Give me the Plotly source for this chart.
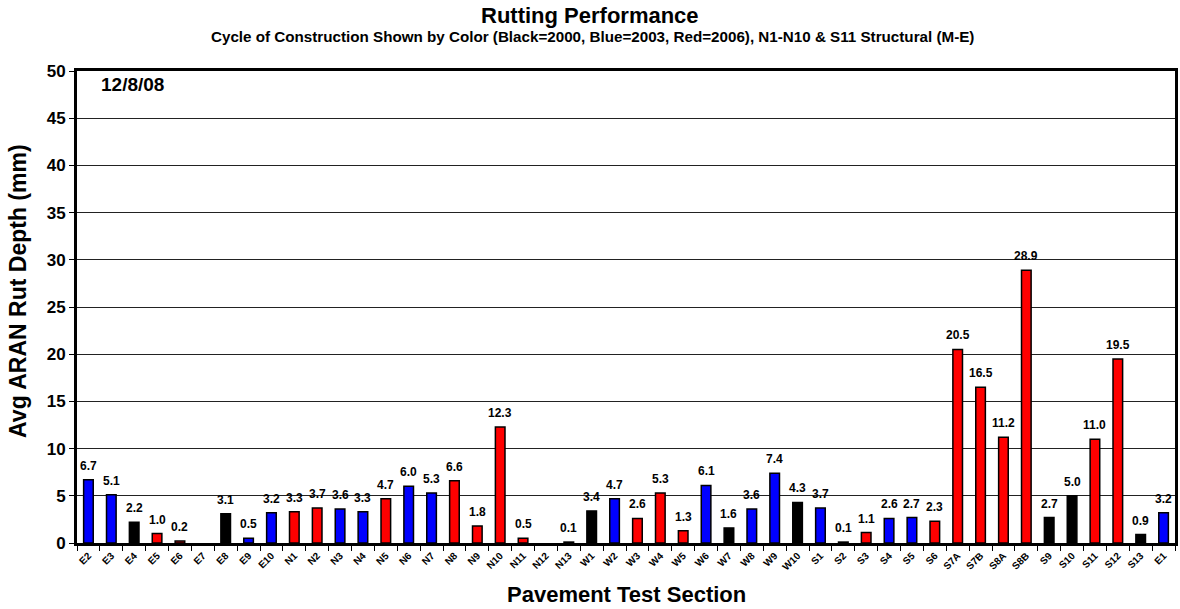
import plotly.graph_objects as go

sections = ["E2", "E3", "E4", "E5", "E6", "E7", "E8", "E9", "E10", "N1", "N2", "N3", "N4", "N5",
            "N6", "N7", "N8", "N9", "N10", "N11", "N12", "N13", "W1", "W2", "W3", "W4", "W5", "W6",
            "W7", "W8", "W9", "W10", "S1", "S2", "S3", "S4", "S5", "S6", "S7A", "S7B", "S8A", "S8B",
            "S9", "S10", "S11", "S12", "S13", "E1"]
rut_mm = [6.7, 5.1, 2.2, 1.0, 0.2, None, 3.1, 0.5, 3.2, 3.3, 3.7, 3.6, 3.3, 4.7,
          6.0, 5.3, 6.6, 1.8, 12.3, 0.5, None, 0.1, 3.4, 4.7, 2.6, 5.3, 1.3, 6.1,
          1.6, 3.6, 7.4, 4.3, 3.7, 0.1, 1.1, 2.6, 2.7, 2.3, 20.5, 16.5, 11.2, 28.9,
          2.7, 5.0, 11.0, 19.5, 0.9, 3.2]
cycle = [2003, 2003, 2000, 2006, 2006, 2006, 2000, 2003, 2003, 2006, 2006, 2003, 2003, 2006,
         2003, 2003, 2006, 2006, 2006, 2006, 2006, 2006, 2000, 2003, 2006, 2006, 2006, 2003,
         2000, 2003, 2003, 2000, 2003, 2006, 2006, 2003, 2003, 2006, 2006, 2006, 2006, 2006,
         2000, 2000, 2006, 2006, 2000, 2003]
cycle_colors = {2000: "#000000", 2003: "#0000FF", 2006: "#FF0000"}
y_ticks = [0, 5, 10, 15, 20, 25, 30, 35, 40, 45, 50]

FONT = "Liberation Sans, Arial, sans-serif"

fig = go.Figure()
fig.add_trace(go.Bar(
    x=sections, y=rut_mm,
    marker=dict(color=[cycle_colors[c] for c in cycle],
                line=dict(color="#000000", width=1.5)),
    hoverinfo="x+y",
))

annotations = []
for s, v in zip(sections, rut_mm):
    if v is None:
        continue
    annotations.append(dict(
        x=s, y=v, xref="x", yref="y", text=f"<b>{v:.1f}</b>", showarrow=False,
        xanchor="center", yanchor="bottom", yshift=5,
        font=dict(family=FONT, size=12, color="#000000"),
    ))

annotations += [
    dict(text="<b>Rutting Performance</b>", xref="paper", yref="paper", x=0, y=1,
         xanchor="center", yanchor="middle", xshift=513, yshift=56, showarrow=False,
         font=dict(family=FONT, size=22)),
    dict(text="<b>Cycle of Construction Shown by Color (Black=2000, Blue=2003, Red=2006), N1-N10 & S11 Structural (M-E)</b>",
         xref="paper", yref="paper", x=0, y=1, xanchor="center", yanchor="middle",
         xshift=515, yshift=35, showarrow=False, font=dict(family=FONT, size=15.2)),
    dict(text="<b>12/8/08</b>", xref="paper", yref="paper", x=0, y=1, xanchor="left", yanchor="top",
         xshift=22, yshift=-1, showarrow=False, font=dict(family=FONT, size=19)),
    dict(text="<b>Pavement Test Section</b>", xref="paper", yref="paper", x=0.5, y=0,
         xanchor="center", yanchor="middle", yshift=-51, showarrow=False,
         font=dict(family=FONT, size=22)),
    dict(text="<b>Avg ARAN Rut Depth (mm)</b>", xref="paper", yref="paper", x=0, y=0.532,
         xanchor="center", yanchor="middle", xshift=-59, textangle=-90, showarrow=False,
         font=dict(family=FONT, size=23)),
]

fig.update_layout(
    width=1180, height=609,
    margin=dict(l=77, r=2, t=71, b=66),
    paper_bgcolor="white", plot_bgcolor="white",
    bargap=0.58,
    showlegend=False,
    font=dict(family=FONT, color="#000000"),
    xaxis=dict(
        type="category", tickson="boundaries", ticks="outside", ticklen=5,
        tickcolor="#000000", tickwidth=1,
        tickangle=-45, tickfont=dict(family=FONT, size=10, color="#000000", weight="bold"),
        showline=True, linecolor="#000000", linewidth=3, mirror=True,
        showgrid=False, range=[-0.5, 47.5],
    ),
    yaxis=dict(
        range=[0, 50], tickvals=y_ticks, ticks="outside", ticklen=5,
        tickcolor="#000000", tickwidth=1,
        tickfont=dict(family=FONT, size=17, color="#000000", weight="bold"),
        showline=True, linecolor="#000000", linewidth=3, mirror=True,
        showgrid=True, gridcolor="#222222", gridwidth=1,
        zeroline=False,
    ),
    annotations=annotations,
)

fig.write_html("out.html", config={"displayModeBar": False},
               post_script="document.body.style.margin='0';")
